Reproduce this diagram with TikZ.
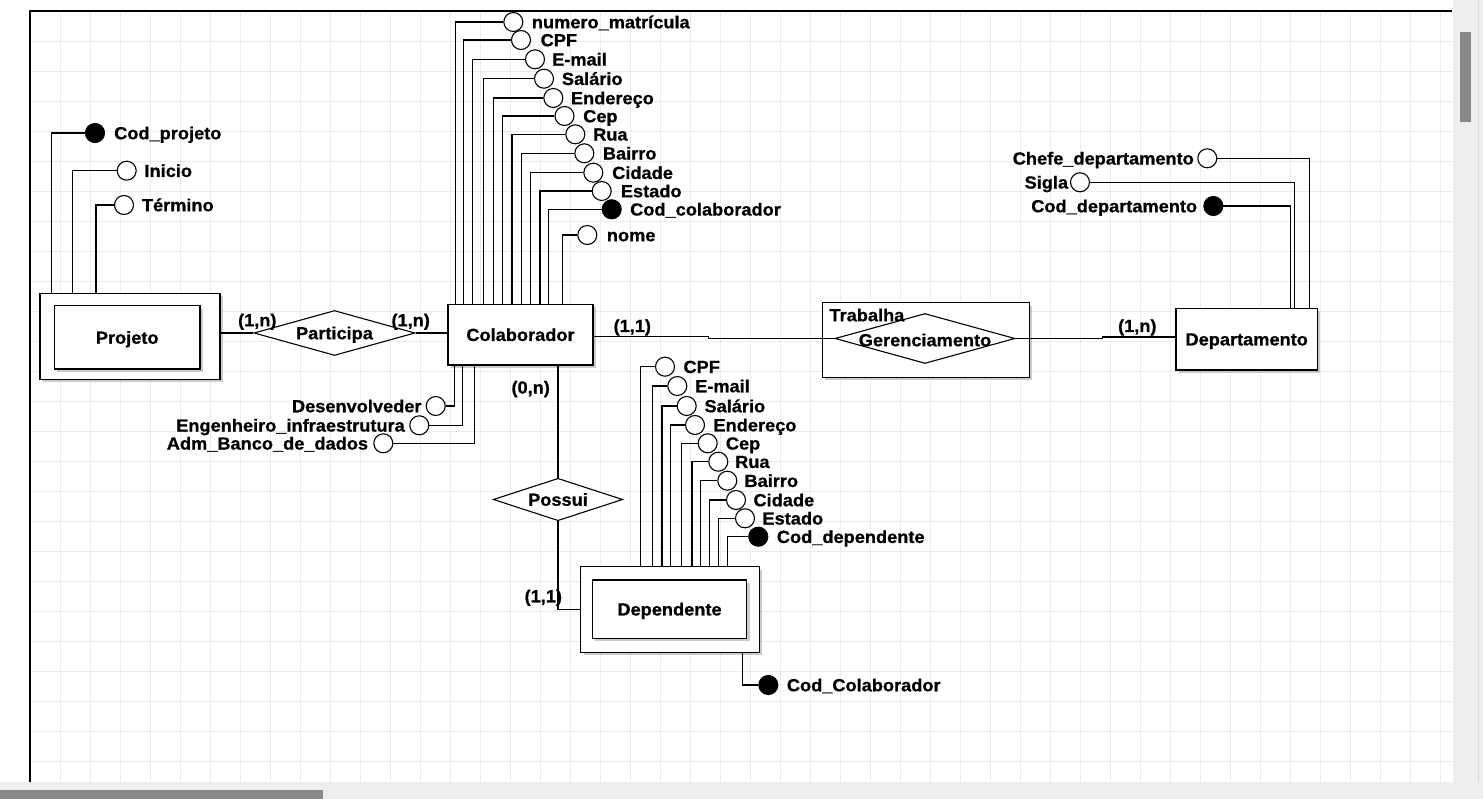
\documentclass[tikz,border=0pt]{standalone}
\usepackage{fontspec}
\setmainfont{Liberation Sans}[FakeStretch=1.04,FakeBold=0.8]
\usetikzlibrary{shapes.geometric,shadows}
\definecolor{gridc}{RGB}{230,237,242}
\definecolor{barbg}{RGB}{238,238,238}
\definecolor{thumbc}{RGB}{136,136,136}
\newcommand\lblfont{\bfseries\fontsize{17.5}{20}\selectfont}
\begin{document}
\begin{tikzpicture}[x=1pt,y=-1pt,
  ln/.style={line width=1.1pt},
  thickln/.style={line width=2.3pt},
  ent/.style={draw, rectangle, line width=1.3pt, fill=white, inner sep=0pt,
    text height=12.5pt, text depth=0pt, font=\lblfont,
    drop shadow={shadow xshift=3pt, shadow yshift=-3pt, fill=black!40}},
  rel/.style={draw, diamond, line width=1.1pt, fill=white, inner sep=0pt},
  attr/.style={draw, circle, line width=1.1pt, fill=white, minimum size=19pt, inner sep=0pt},
  txt/.style={inner sep=0pt, text height=12.5pt, text depth=0pt, font=\lblfont}]
\useasboundingbox (0,0) rectangle (1483,799);
\fill[white] (0,0) rectangle (1483,799);
% grid
\foreach \gx in {60,90,...,1440} \draw[gridc, line width=0.8pt] (\gx,11) -- (\gx,782);
\foreach \gy in {41.7,71.7,...,761.7} \draw[gridc, line width=0.8pt] (30,\gy) -- (1452,\gy);
% canvas borders
\draw[line width=1.5pt] (30,782) -- (30,11) -- (1452,11);

% ---------- entities ----------
\node[ent, minimum width=180pt, minimum height=86pt] (projo) at (130,336.3) {};
\node[ent, minimum width=145.7pt, minimum height=63.3pt] (proj) at (127.2,337.5) {Projeto};
\node[ent, minimum width=145pt, minimum height=60.7pt] (colab) at (520.5,334.7) {Colaborador};
\node[ent, minimum width=178.6pt, minimum height=85.6pt] (depo) at (670,609.5) {};
\node[ent, minimum width=154.4pt, minimum height=58.3pt] (dep) at (669.5,609.2) {Dependente};
\node[ent, minimum width=141.3pt, minimum height=61.7pt] (dept) at (1246.7,339.2) {Departamento};
\node[ent, minimum width=207pt, minimum height=74.6pt] (trab) at (925.8,340) {};

% ---------- relationships ----------
\node[rel, minimum width=161pt, minimum height=45pt, label={[txt]center:Participa}] (part) at (334.5,333) {};
\node[rel, minimum width=129.4pt, minimum height=42.4pt, label={[txt]center:Possui}] (pos) at (558,499.5) {};
\node[rel, minimum width=180pt, minimum height=50pt] (ger) at (925,338.5) {};
\node[txt, anchor=west] (trabt) at (829.3,315) {Trabalha};
\node[txt] (gert) at (925,340) {Gerenciamento};

% ---------- relationship connectors ----------
\draw[ln] (part.west) -- (part.west -| projo.east);
\draw[ln] (part.east) -- (part.east -| colab.west);
\coordinate (k1) at (708.3,336.7);
\draw[ln] (k1 -| colab.east) -- (k1) -- (k1 |- ger.west) -- (ger.west);
\coordinate (k3) at (1102.3,337);
\draw[ln] (ger.east) -- (ger.east -| k3) -- (k3) -- (k3 -| dept.west);
\draw[ln] (pos.north) -- (pos.north |- colab.south);
\draw[ln] (pos.south) |- (depo.west);

% cardinalities
\node[txt] (c1) at (257.3,320) {(1,n)};
\node[txt] (c2) at (410.7,320) {(1,n)};
\node[txt] (c3) at (632.3,325.7) {(1,1)};
\node[txt] (c4) at (1137.3,325.7) {(1,n)};
\node[txt] (c5) at (530.7,387.3) {(0,n)};
\node[txt] (c6) at (543.3,596) {(1,1)};

% ---------- Projeto attributes ----------
\node[attr, fill=black] (pa1) at (95,133) {};
\node[txt, anchor=west] (pt1) at (114,133) {Cod\_projeto};
\node[attr] (pa2) at (126.7,170.7) {};
\node[txt, anchor=west] (pt2) at (144.3,170.7) {Inicio};
\node[attr] (pa3) at (124,205) {};
\node[txt, anchor=west] (pt3) at (141.7,205) {Término};
\coordinate (pv1) at (51.3,293.3);
\coordinate (pv2) at (72.3,293.3);
\coordinate (pv3) at (96,293.3);
\draw[ln] (pa1.west) -| (pv1);
\draw[ln] (pa2.west) -| (pv2);
\draw[thickln] (pa3.west) -| (pv3);

% ---------- Colaborador attributes (top) ----------
\foreach \i/\cx/\cy/\tx/\vx/\f/\t in {
  1/513.3/22/531.7/455.7/white/numero\_matrícula,
  2/521/40/540.5/463.7/white/CPF,
  3/535/59.3/552/472.3/white/E-mail,
  4/544/78.7/561.7/483.3/white/Salário,
  5/553.3/98/570.7/493.3/white/Endereço,
  6/564.5/116/583/502.7/white/Cep,
  7/575.3/134.3/593/512/white/Rua,
  8/584.3/153.3/602.7/521.3/white/Bairro,
  9/593.3/172.7/612/530.7/white/Cidade,
  10/601.7/191/620.7/540/white/Estado,
  11/611.7/209.3/630/548.7/black/Cod\_colaborador,
  12/587.3/235/606.7/562.7/white/nome}{
  \node[attr, fill=\f] (ca\i) at (\cx,\cy) {};
  \node[txt, anchor=west] (cat\i) at (\tx,\cy) {\t};
  \coordinate (cv\i) at (\vx,304.3);
  \draw[ln] (ca\i.west) -| (cv\i);
}

% ---------- Colaborador attributes (bottom) ----------
\foreach \i/\cx/\cy/\tx/\vx/\t in {
  1/435.7/406/421.7/454.3/Desenvolveder,
  2/419.3/425.3/405/462.7/Engenheiro\_infraestrutura,
  3/383.3/443.3/368.3/474.3/Adm\_Banco\_de\_dados}{
  \node[attr] (cb\i) at (\cx,\cy) {};
  \node[txt, anchor=east] (cbt\i) at (\tx,\cy) {\t};
  \coordinate (cbv\i) at (\vx,365);
  \draw[ln] (cb\i.east) -| (cbv\i);
}

% ---------- Dependente attributes ----------
\foreach \i/\cx/\cy/\tx/\vx/\f/\t in {
  1/665/366.7/683.3/640.7/white/CPF,
  2/677.3/386/695/652.7/white/E-mail,
  3/686.7/406/704.3/662/white/Salário,
  4/695/425/713.3/670.7/white/Endereço,
  5/707.7/443.3/725.7/681.7/white/Cep,
  6/718.3/461.7/735/692/white/Rua,
  7/727.3/480.7/744.3/700.7/white/Bairro,
  8/736/500/753.3/709.3/white/Cidade,
  9/745/518.3/762.3/718.7/white/Estado,
  10/758.3/536.7/776.7/727.3/black/Cod\_dependente}{
  \node[attr, fill=\f] (da\i) at (\cx,\cy) {};
  \node[txt, anchor=west] (dat\i) at (\tx,\cy) {\t};
  \coordinate (dv\i) at (\vx,566.7);
  \draw[ln] (da\i.west) -| (dv\i);
}
\node[attr, fill=black] (dcc) at (768.3,685) {};
\node[txt, anchor=west] (dcct) at (786.7,685) {Cod\_Colaborador};
\coordinate (dccv) at (742.7,652.3);
\draw[ln] (dccv) |- (dcc.west);

% ---------- Departamento attributes ----------
\foreach \i/\cx/\cy/\tx/\vx/\f/\t in {
  1/1207.3/158.3/1194/1309.3/white/Chefe\_departamento,
  2/1080/182.3/1068.3/1294.3/white/Sigla,
  3/1213.3/206/1197.3/1290.7/black/Cod\_departamento}{
  \node[attr, fill=\f] (pd\i) at (\cx,\cy) {};
  \node[txt, anchor=east] (pdt\i) at (\tx,\cy) {\t};
  \coordinate (pdv\i) at (\vx,308.3);
  \draw[ln] (pd\i.east) -| (pdv\i);
}

% ---------- scroll bars ----------
\fill[barbg] (1452.5,0) rectangle (1483,782);
\draw[black!15, line width=0.8pt] (1478,0) -- (1478,782);
\fill[thumbc] (1460,32) rectangle (1471,122);
\fill[barbg] (0,782) rectangle (1483,799);
\fill[thumbc] (0,790) rectangle (323,799);
\end{tikzpicture}
\end{document}
